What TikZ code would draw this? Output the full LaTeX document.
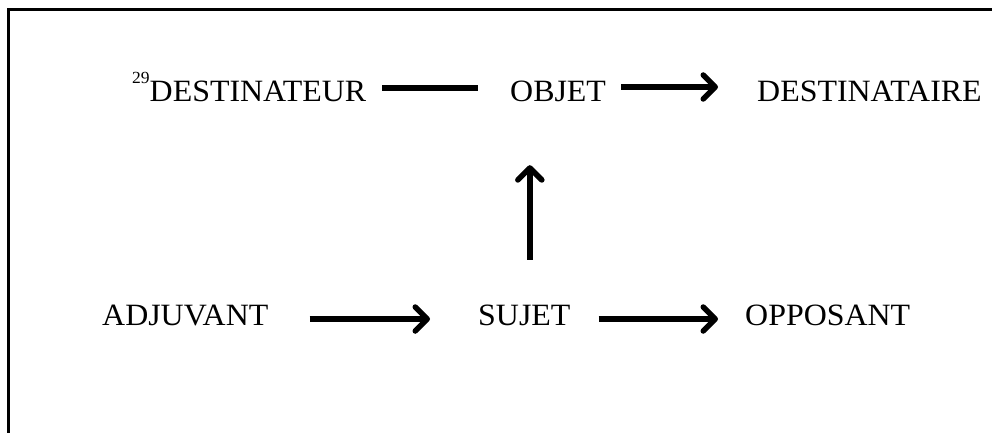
\documentclass[tikz,border=0pt]{standalone}
\usepackage{fontspec}
\setmainfont{Liberation Serif}[FakeStretch=1.03]
\usetikzlibrary{arrows.meta}

\begin{document}
\begin{tikzpicture}[x=1pt,y=-1pt,
                    actant/.style={inner sep=0pt,anchor=base west,text height=21pt,text depth=0pt,font=\fontsize{31}{36}\selectfont},
                    trait/.style={line width=5.5pt},
                    fleche/.style={line width=5.5pt,-{Straight Barb[length=12pt,width=24pt,round]}}]
                    \useasboundingbox (0,0) rectangle (992,433);
                    \draw[line width=3pt] (992,10) -- (8,10) -- (8,433);

                    \node[actant] (destinateur) at (132,102) {\raisebox{18pt}{\fontsize{17}{17}\selectfont 29}DESTINATEUR};
                    \node[actant] (objet) at (510,102) {OBJET};
                    \node[actant] (destinataire) at (757,102) {DESTINATAIRE};

                    \node[actant] (adjuvant) at (102,325) {ADJUVANT};
                    \node[actant] (sujet) at (478,325) {SUJET};
                    \node[actant] (opposant) at (745,325) {OPPOSANT};

                    \draw[trait,shorten <=16pt,shorten >=32pt,transform canvas={yshift=3.5pt}] (destinateur) -- (objet);
                    \draw[fleche,shorten <=15pt,shorten >=39pt,transform canvas={yshift=4.5pt}] (objet) -- (destinataire);
                    \draw[fleche,shorten <=41pt,shorten >=48pt,transform canvas={yshift=-4.5pt}] (adjuvant) -- (sujet);
                    \draw[fleche,shorten <=28pt,shorten >=27pt,transform canvas={yshift=-4.5pt}] (sujet) -- (opposant);
                    \draw[fleche,shorten <=44pt,shorten >=63pt] ([xshift=5.5pt]sujet.north) -- ([xshift=5.5pt]sujet.north |- objet.south);

                \end{tikzpicture}
\end{document}
